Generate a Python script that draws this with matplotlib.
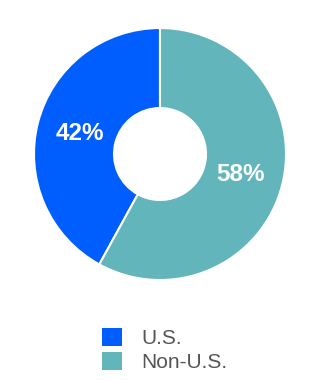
import matplotlib.pyplot as plt
from matplotlib.patches import Patch

# data
labels = ["U.S.", "Non-U.S."]
shares = [42, 58]
colors = ["#005EFF", "#62B5BA"]

plt.rcParams['font.family'] = ['Liberation Sans', 'DejaVu Sans']

fig = plt.figure(figsize=(3.2, 3.8), dpi=100)
ax = fig.add_axes([34/320, 100/380, 252/320, 252/380])

wedges, texts, autotexts = ax.pie(
    shares, colors=colors, startangle=90, counterclock=True,
    autopct='%d%%', pctdistance=0.66,
    wedgeprops=dict(width=0.635, edgecolor='white', linewidth=1.5),
    textprops=dict(color='white', fontsize=17.5, fontweight='bold'))
ax.set_xlim(-1.0, 1.0)
ax.set_ylim(-1.0, 1.0)
ax.set_aspect('equal')

# plain squares for the legend (no white edge)
handles = [Patch(facecolor=c, edgecolor='none') for c in colors]
fig.legend(handles, labels, loc='upper left',
           bbox_to_anchor=(102/320, 1 - 328/380),
           frameon=False, fontsize=15, labelcolor='#555555',
           handlelength=0.95, handleheight=0.95, handletextpad=0.95,
           labelspacing=0.2, borderpad=0, borderaxespad=0)

fig.savefig('out.png', dpi=100)
